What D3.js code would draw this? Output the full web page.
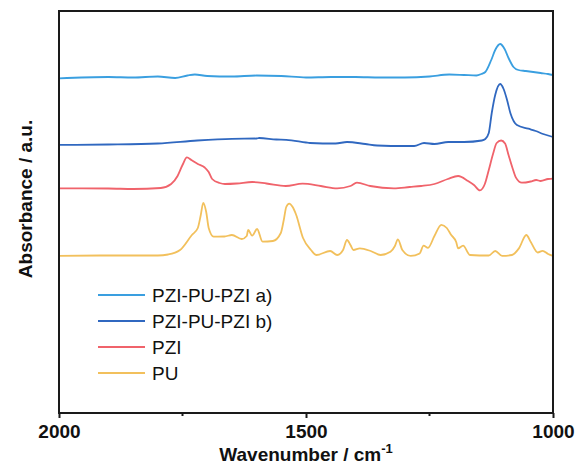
<!DOCTYPE html>
<html>
<head>
<meta charset="utf-8">
<script src="https://cdn.jsdelivr.net/npm/d3@7"></script>
<style>
  body { margin: 0; background: #fff; }
  text { font-family: Arial, "Liberation Sans", sans-serif; fill: #111; }
</style>
</head>
<body>
<script>
var w = 579, h = 464;

// series names + colours (legend order)
var seriesNames = ["PZI-PU-PZI a)", "PZI-PU-PZI b)", "PZI", "PU"];
var seriesColors = ["#3a9fe0", "#3068c0", "#f0636b", "#f2c05c"];

// spectra: [wavenumber cm-1, absorbance a.u. incl. stacking offset]
var pzipupziA = [
  [2000, 3.347], [1900, 3.36], [1850, 3.355], [1800, 3.365], [1765, 3.35],
  [1740, 3.375], [1725, 3.385], [1700, 3.37], [1650, 3.365], [1600, 3.375],
  [1550, 3.37], [1500, 3.355], [1450, 3.36], [1400, 3.36], [1350, 3.355],
  [1300, 3.355], [1250, 3.365], [1210, 3.385], [1180, 3.38], [1155, 3.375],
  [1145, 3.39], [1137, 3.41], [1125, 3.53], [1117, 3.63], [1107, 3.69],
  [1098, 3.64], [1090, 3.55], [1080, 3.46], [1070, 3.43], [1055, 3.42],
  [1040, 3.41], [1025, 3.40], [1010, 3.39], [1000, 3.38]
];

var pzipupziB = [
  [2000, 2.681], [1900, 2.685], [1800, 2.695], [1720, 2.725], [1650, 2.742],
  [1600, 2.745], [1595, 2.75], [1560, 2.735], [1540, 2.732], [1500, 2.705],
  [1492, 2.70], [1440, 2.695], [1417, 2.71], [1380, 2.69], [1356, 2.675],
  [1300, 2.67], [1281, 2.67], [1261, 2.70], [1240, 2.69], [1212, 2.71],
  [1180, 2.71], [1144, 2.725], [1137, 2.74], [1130, 2.80], [1124, 3.00],
  [1117, 3.18], [1107, 3.29], [1100, 3.24], [1093, 3.13], [1086, 2.995],
  [1073, 2.88], [1050, 2.843], [1035, 2.82], [1020, 2.79], [1000, 2.76]
];

var pzi = [
  [2000, 2.246], [1900, 2.245], [1850, 2.24], [1794, 2.25], [1773, 2.29],
  [1760, 2.37], [1750, 2.48], [1741, 2.556], [1732, 2.53], [1719, 2.49],
  [1705, 2.455], [1697, 2.41], [1690, 2.34], [1675, 2.30], [1664, 2.29],
  [1640, 2.295], [1609, 2.31], [1580, 2.295], [1541, 2.27], [1507, 2.293],
  [1470, 2.27], [1437, 2.246], [1410, 2.27], [1397, 2.303], [1370, 2.27],
  [1322, 2.246], [1290, 2.26], [1267, 2.27], [1240, 2.29], [1213, 2.34],
  [1192, 2.37], [1172, 2.32], [1160, 2.28], [1148, 2.226], [1138, 2.29],
  [1130, 2.43], [1122, 2.58], [1114, 2.70], [1105, 2.725], [1097, 2.695],
  [1090, 2.58], [1082, 2.45], [1075, 2.354], [1063, 2.303], [1045, 2.315],
  [1034, 2.33], [1025, 2.32], [1010, 2.34], [1000, 2.344]
];

var pu = [
  [2000, 1.571], [1900, 1.575], [1800, 1.575], [1779, 1.585], [1755, 1.63],
  [1731, 1.78], [1719, 1.85], [1713, 1.98], [1708, 2.10], [1702, 2.01],
  [1697, 1.85], [1687, 1.764], [1665, 1.765], [1650, 1.78], [1630, 1.74],
  [1620, 1.77], [1617, 1.83], [1609, 1.774], [1599, 1.84], [1588, 1.713],
  [1567, 1.72], [1551, 1.80], [1545, 1.93], [1540, 2.06], [1534, 2.094],
  [1527, 2.06], [1520, 1.983], [1506, 1.75], [1490, 1.63], [1479, 1.58],
  [1451, 1.62], [1437, 1.58], [1425, 1.63], [1417, 1.73], [1410, 1.68],
  [1404, 1.63], [1391, 1.646], [1369, 1.62], [1349, 1.58], [1329, 1.612],
  [1320, 1.67], [1314, 1.737], [1305, 1.63], [1288, 1.571], [1270, 1.595],
  [1262, 1.673], [1253, 1.652], [1240, 1.77], [1226, 1.882], [1215, 1.85],
  [1206, 1.78], [1196, 1.71], [1192, 1.646], [1182, 1.673], [1168, 1.58],
  [1130, 1.575], [1117, 1.62], [1103, 1.571], [1083, 1.58], [1069, 1.646],
  [1054, 1.78], [1045, 1.71], [1031, 1.605], [1021, 1.622], [1010, 1.59],
  [1000, 1.571]
];

var majorTicks = [2000, 1500, 1000];
var minorTicks = [1750, 1250];

var allSeries = [pzipupziA, pzipupziB, pzi, pu];

var plotL = 59, plotR = 553, plotT = 11, plotB = 413;

var svg = d3.select("body")
  .append("svg")
  .attr("width", w)
  .attr("height", h);

var x = d3.scaleLinear()
  .domain([2000, 1000])
  .range([plotL, plotR]);

var y = d3.scaleLinear()
  .domain([0, 4.02])
  .range([plotB, plotT]);

var line = d3.line()
  .x(function(d) { return x(d[0]); })
  .y(function(d) { return y(d[1]); })
  .curve(d3.curveMonotoneX);

// spectra, drawn bottom first
svg.selectAll(".spec")
  .data(allSeries.slice().reverse())
  .enter()
  .append("path")
  .attr("class", "spec")
  .attr("d", line)
  .attr("fill", "none")
  .attr("stroke-width", 1.8)
  .attr("stroke-linejoin", "round")
  .attr("stroke", function(d, i) {
    return seriesColors[seriesColors.length - 1 - i];
  });

// frame
svg.append("rect")
  .attr("x", plotL)
  .attr("y", plotT)
  .attr("width", plotR - plotL)
  .attr("height", plotB - plotT)
  .attr("fill", "none")
  .attr("stroke", "#1a1a1a")
  .attr("stroke-width", 2);

// bottom axis
var xAxis = d3.axisBottom(x)
  .tickValues(majorTicks)
  .tickSize(5)
  .tickPadding(7)
  .tickFormat(d3.format("d"));

var gx = svg.append("g")
  .attr("transform", "translate(0," + plotB + ")")
  .call(xAxis);
gx.select(".domain").remove();
gx.selectAll(".tick line").attr("stroke", "#1a1a1a").attr("stroke-width", 2);
gx.selectAll(".tick text")
  .style("font-size", "19px")
  .style("font-weight", "bold")
  .attr("fill", "#111");

svg.selectAll(".minor")
  .data(minorTicks)
  .enter()
  .append("line")
  .attr("class", "minor")
  .attr("x1", function(d) { return x(d); })
  .attr("x2", function(d) { return x(d); })
  .attr("y1", plotB)
  .attr("y2", plotB + 3)
  .attr("stroke", "#1a1a1a")
  .attr("stroke-width", 2);

// axis titles
var xTitle = svg.append("text")
  .attr("x", (plotL + plotR) / 2)
  .attr("y", 461)
  .attr("text-anchor", "middle")
  .style("font-size", "19px")
  .style("font-weight", "bold");
xTitle.append("tspan").text("Wavenumber / cm");
xTitle.append("tspan")
  .attr("dy", -8)
  .style("font-size", "13px")
  .text("-1");

svg.append("text")
  .attr("transform", "translate(32," + 199 + ") rotate(-90)")
  .attr("text-anchor", "middle")
  .style("font-size", "19px")
  .style("font-weight", "bold")
  .text("Absorbance / a.u.");

// legend
var legend = svg.selectAll(".legend")
  .data(seriesNames)
  .enter()
  .append("g")
  .attr("class", "legend")
  .attr("transform", function(d, i) {
    return "translate(98," + (295 + i * 26) + ")";
  });

legend.append("line")
  .attr("x1", 0)
  .attr("x2", 47)
  .attr("stroke-width", 2)
  .attr("stroke", function(d, i) { return seriesColors[i]; });

legend.append("text")
  .attr("x", 54)
  .attr("dy", "0.35em")
  .style("font-size", "19px")
  .text(function(d) { return d; });
</script>
</body>
</html>
